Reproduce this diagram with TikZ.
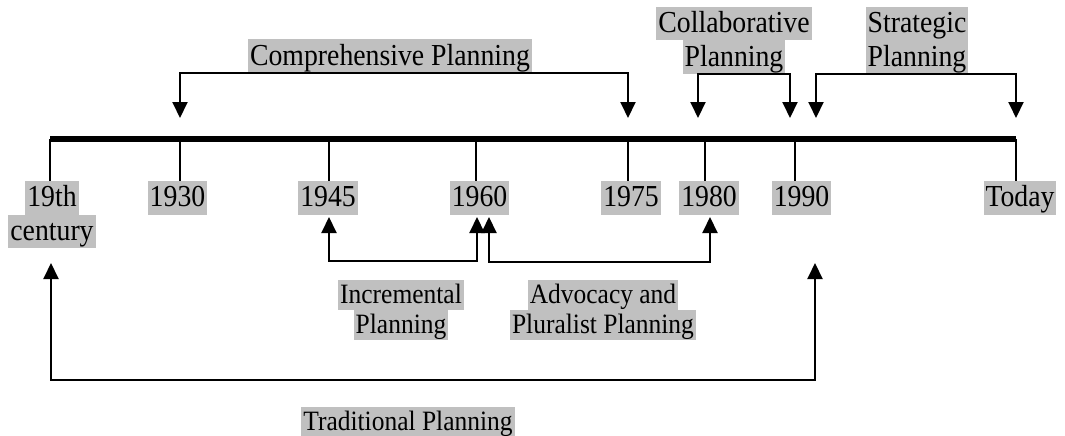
\documentclass[tikz,border=0pt]{standalone}
\usepackage{fontspec}
\setmainfont[FakeStretch=0.91]{Liberation Serif}
\usepackage{tikz}
\usetikzlibrary{calc,positioning,arrows.meta}
\definecolor{hlgray}{RGB}{192,192,192}
\newcommand{\lblstrut}{\rule[-0.23\baselineskip]{0pt}{\baselineskip}}
\newcommand{\hl}[1]{{\setlength{\fboxsep}{0pt}\colorbox{hlgray}{\hspace{2pt}\lblstrut #1\hspace{2pt}}}}
\newcommand{\toplbl}{\fontsize{30.5}{33.5}\selectfont}
\newcommand{\botlbl}{\fontsize{28}{30}\selectfont}
\tikzstyle{bracket} = [line width=2pt, <->, >={Triangle[length=16pt,width=15pt]}]
\tikzstyle{tick} = [line width=2pt]

\begin{document}
\begin{tikzpicture}[x=1pt,y=-1pt]
\useasboundingbox (0,0) rectangle (1065,436);
\tikzset{%
	yr/.style = {inner sep=0pt, font=\toplbl, align=center},
	pl/.style = {inner sep=0pt, font=\botlbl, align=center}
}
% time line
\coordinate (y19) at (50,139);
\coordinate (y30) at (180,139);
\coordinate (y45) at (329,139);
\coordinate (y60) at (476,139);
\coordinate (y75) at (628,139);
\coordinate (y80) at (705,139);
\coordinate (y90) at (795,139);
\coordinate (ytd) at (1016,139);
\draw [line width=6pt] (y19) -- (ytd);

\node(l19) [yr, below=42pt of y19, xshift=2pt] {\hl{19th}\\\hl{century}};
\node(l30) [yr, below=42pt of y30, xshift=-2.5pt] {\hl{1930}};
\node(l45) [yr, below=42pt of y45, xshift=-1pt] {\hl{1945}};
\node(l60) [yr, below=42pt of y60, xshift=3.5pt] {\hl{1960}};
\node(l75) [yr, below=42pt of y75, xshift=3pt] {\hl{1975}};
\node(l80) [yr, below=42pt of y80, xshift=4pt] {\hl{1980}};
\node(l90) [yr, below=42pt of y90, xshift=6.5pt] {\hl{1990}};
\node(ltd) [yr, below=42pt of ytd, xshift=4pt] {\hl{Today}};

\draw [tick] (y19) -- (y19 |- l19.north);
\draw [tick] (y30) -- (y30 |- l30.north);
\draw [tick] (y45) -- (y45 |- l45.north);
\draw [tick] (y60) -- (y60 |- l60.north);
\draw [tick] (y75) -- (y75 |- l75.north);
\draw [tick] (y80) -- (y80 |- l80.north);
\draw [tick] (y90) -- (y90 |- l90.north);
\draw [tick] (ytd) -- (ytd |- ltd.north);

% periods above the line
\node(cp) [yr, anchor=south] at (390,73) {\hl{Comprehensive Planning}};
\coordinate (cpL) at (180,118);
\coordinate (cpR) at (628,118);
\draw [bracket] (cpL) |- (cp.south) -| (cpR);

\node(cl) [yr, anchor=south] at (734,74) {\hl{Collaborative}\\\hl{Planning}};
\coordinate (clL) at (698,118);
\coordinate (clR) at (790,118);
\coordinate (clB) at (744,74);
\draw [bracket] (clL) |- (clB) -| (clR);

\node(sg) [yr, anchor=south] at (917,74) {\hl{Strategic}\\\hl{Planning}};
\coordinate (sgL) at (816,118);
\coordinate (sgR) at (1016,118);
\coordinate (sgB) at (917,74);
\draw [bracket] (sgL) |- (sgB) -| (sgR);

% periods below the line
\node(ic) [pl, anchor=north] at (401,280) {\hl{Incremental}\\\hl{Planning}};
\coordinate (icL) at (329,217);
\coordinate (icR) at (477,217);
\coordinate (icB) at (403,261);
\draw [bracket] (icL) |- (icB) -| (icR);

\node(av) [pl, anchor=north] at (603,280) {\hl{Advocacy and}\\\hl{Pluralist Planning}};
\coordinate (avL) at (489,217);
\coordinate (avR) at (710,217);
\coordinate (avB) at (600,262);
\draw [bracket] (avL) |- (avB) -| (avR);

\node(tr) [pl, anchor=north] at (408,407) {\hl{Traditional Planning}};
\coordinate (trL) at (51,263);
\coordinate (trR) at (815,263);
\coordinate (trB) at (408,380);
\draw [bracket] (trL) |- (trB) -| (trR);
\end{tikzpicture}
\end{document}
